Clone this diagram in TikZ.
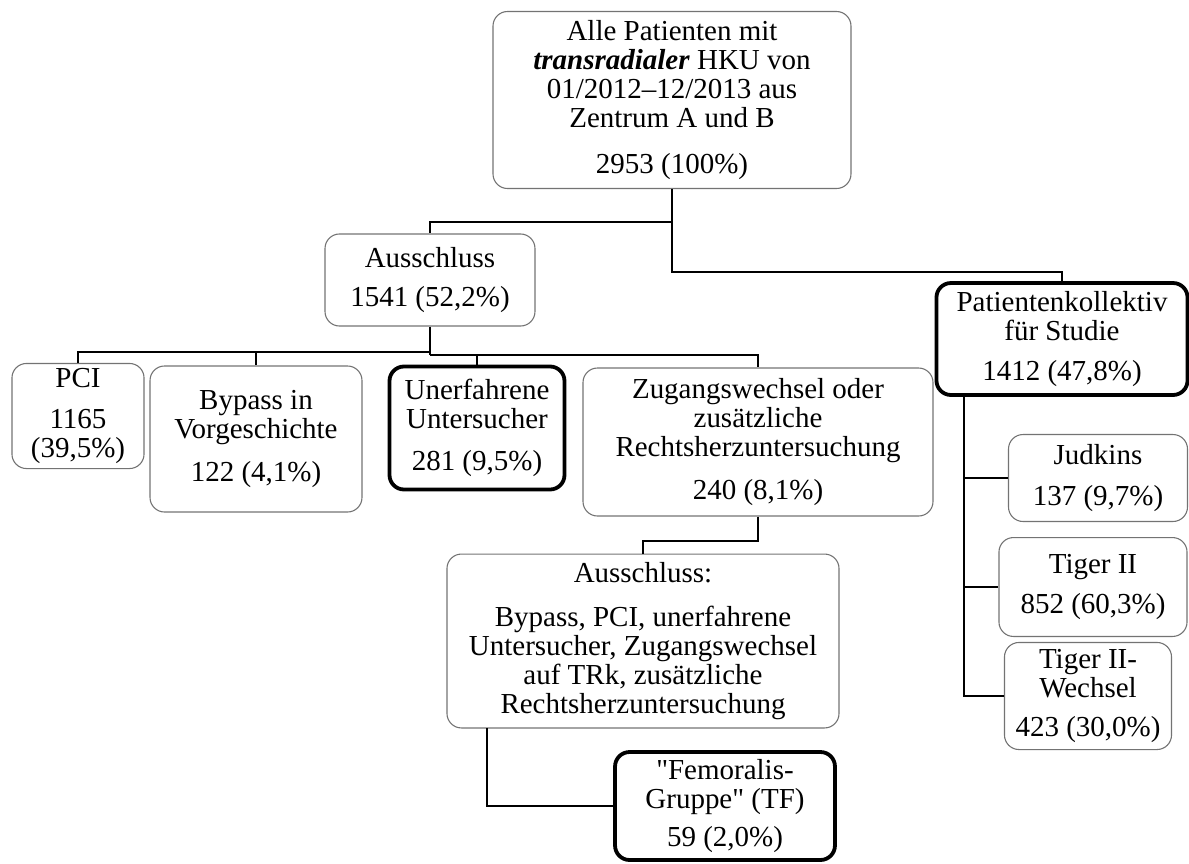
\documentclass[tikz,border=0pt]{standalone}
\usepackage{fontspec}
\setmainfont{Liberation Serif}[Ligatures=TeXOff]
\usetikzlibrary{positioning}

\tikzset{
  box/.style = {draw=black!55, line width=0.6pt, rounded corners=8pt,
                align=center, inner sep=0pt,
                font=\fontsize{16}{16}\selectfont},
  keybox/.style = {box, draw=black, line width=2.1pt},
  link/.style = {draw=black, line width=1.6pt}
}

\begin{document}
\begin{tikzpicture}[x=0.552pt,y=-0.552pt]
   \useasboundingbox (0,0) rectangle (1189,863);
   % boxes
   \node[box, minimum width=197.6pt, minimum height=97.7pt] (alle) at (672,100)
      {Alle Patienten mit\\\textbf{\textit{transradialer}} HKU von\\01/2012–12/2013 aus\\Zentrum A und B\\[9pt]2953 (100\%)};
   \node[box, minimum width=115.9pt, minimum height=50.8pt] (aus) at (430,280)
      {Ausschluss\\[6pt]1541 (52,2\%)};
   \node[box, minimum width=72.9pt, minimum height=58pt] (pci) at (78,416)
      {PCI\\[7pt]1165\\(39,5\%)};
   \node[box, minimum width=117pt, minimum height=80.6pt] (bypass) at (256,439)
      {Bypass in\\Vorgeschichte\\[8pt]122 (4,1\%)};
   \node[keybox, minimum width=96.6pt, minimum height=67.9pt] (unerf) at (477,428)
      {Unerfahrene\\Untersucher\\[7pt]281 (9,5\%)};
   \node[box, minimum width=193.2pt, minimum height=81.7pt] (zug) at (758,442)
      {Zugangswechsel oder\\zusätzliche\\Rechtsherzuntersuchung\\[8pt]240 (8,1\%)};
   \node[box, minimum width=216.4pt, minimum height=96pt] (aus2) at (643,641)
      {Ausschluss:\\[8pt]Bypass, PCI, unerfahrene\\Untersucher, Zugangswechsel\\auf TRk, zusätzliche\\Rechtsherzuntersuchung};
   \node[keybox, minimum width=121.4pt, minimum height=59.6pt] (femo) at (725,806)
      {"Femoralis-\\Gruppe" (TF)\\[5pt]59 (2,0\%)};
   \node[keybox, minimum width=138.6pt, minimum height=61.8pt] (koll) at (1062,339)
      {Patientenkollektiv\\für Studie\\[6pt]1412 (47,8\%)};
   \node[box, minimum width=98.8pt, minimum height=48pt] (judk) at (1098,478)
      {Judkins\\[7pt]137 (9,7\%)};
   \node[box, minimum width=103.8pt, minimum height=54.6pt] (tig) at (1093,587)
      {Tiger II\\[6pt]852 (60,3\%)};
   \node[box, minimum width=92.2pt, minimum height=59.1pt] (wech) at (1088,696)
      {Tiger II-\\Wechsel\\[6pt]423 (30,0\%)};
   % junctions
   \coordinate (j1) at (672,222);
   \coordinate (j2) at (672,272);
   \coordinate (j3) at (430,352);
   \coordinate (j4) at (430,355);
   \coordinate (j5) at (758,541);
   \coordinate (j6) at (487,728);
   \coordinate (j7) at (964,395);
   % connectors
   \draw[link] (alle.south) -- (j1) -| (aus.north);
   \draw[link] (j1) -- (j2) -| (koll.north);
   \draw[link] (aus.south) -- (j4);
   \draw[link] (j3) -| (pci.north);
   \draw[link] (j3) -| (bypass.north);
   \draw[link] (j4) -| (unerf.north);
   \draw[link] (j4) -| (zug.north);
   \draw[link] (zug.south) -- (j5) -| (aus2.north);
   \draw[link] (j6) |- (femo.west);
   \draw[link] (j7) |- (judk.west);
   \draw[link] (j7) |- (tig.west);
   \draw[link] (j7) |- (wech.west);
\end{tikzpicture}
\end{document}
